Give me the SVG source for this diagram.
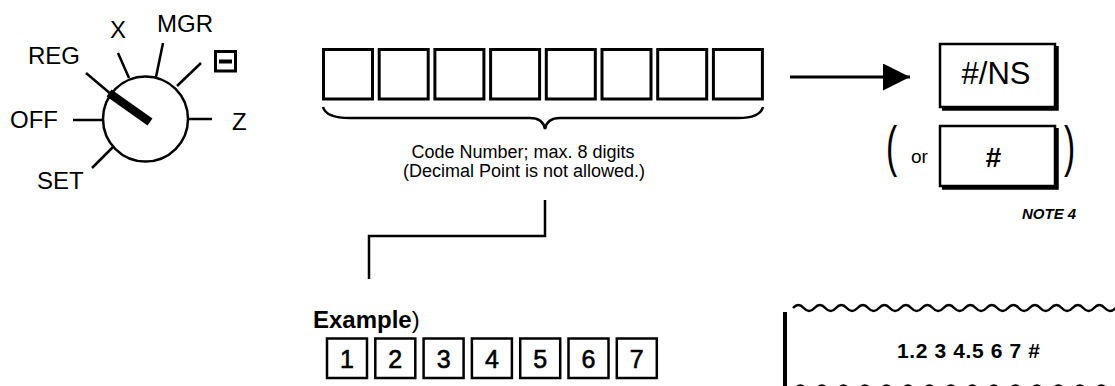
<svg xmlns="http://www.w3.org/2000/svg" width="1115" height="386" viewBox="0 0 1115 386">
<defs>
<style>
text{font-family:"Liberation Sans",Arial,sans-serif;fill:#000}
.lbl{font-size:24px}
.ln{stroke:#000;stroke-width:2.5;fill:none}
.box{stroke:#000;stroke-width:3;fill:#fff}
.dbox{stroke:#000;stroke-width:2.5;fill:#fff}
.dig{font-size:25px;text-anchor:middle;stroke:#000;stroke-width:0.6}
.shadow{stroke:#000;stroke-width:4.5;fill:none}
</style>
<marker id="ah" markerWidth="28" markerHeight="28" refX="27" refY="13.5" orient="auto" markerUnits="userSpaceOnUse" viewBox="0 0 28 28">
<path d="M0,0 L27,13.5 L0,27 Z" fill="#000"/>
</marker>
</defs>
<rect width="1115" height="386" fill="#fff"/>

<g id="dial">
<circle cx="145.5" cy="119" r="42.5" class="ln"/>
<line x1="73" y1="120" x2="103" y2="120" class="ln"/>
<line x1="188" y1="119" x2="212" y2="119" class="ln"/>
<line x1="92" y1="168" x2="113" y2="147" class="ln"/>
<line x1="118" y1="53" x2="129" y2="78" class="ln"/>
<line x1="163" y1="43" x2="156" y2="77" class="ln"/>
<line x1="201" y1="63" x2="177" y2="86" class="ln"/>
<line x1="86" y1="73" x2="112" y2="95" class="ln"/>
<line x1="109" y1="93" x2="150" y2="122" stroke="#000" stroke-width="8.5"/>
<text class="lbl" x="28" y="64">REG</text>
<text class="lbl" x="110" y="38">X</text>
<text class="lbl" x="157" y="32">MGR</text>
<text class="lbl" x="10" y="128">OFF</text>
<text class="lbl" x="232" y="130">Z</text>
<text class="lbl" x="37" y="189">SET</text>
<rect x="215.5" y="51.5" width="20" height="19.5" fill="none" stroke="#000" stroke-width="3"/>
<line x1="219" y1="61.5" x2="232" y2="61.5" stroke="#000" stroke-width="4"/>
</g>

<g id="code-boxes">
<rect class="box" x="323.5" y="49.5" width="49" height="49.5"/>
<rect class="box" x="379.2" y="49.5" width="49" height="49.5"/>
<rect class="box" x="434.9" y="49.5" width="49" height="49.5"/>
<rect class="box" x="490.6" y="49.5" width="49" height="49.5"/>
<rect class="box" x="546.3" y="49.5" width="49" height="49.5"/>
<rect class="box" x="602" y="49.5" width="49" height="49.5"/>
<rect class="box" x="657.7" y="49.5" width="49" height="49.5"/>
<rect class="box" x="713.4" y="49.5" width="49" height="49.5"/>
</g>

<g id="code-label">
<path class="ln" d="M323,107 Q326,118 350,118 H530 Q543,118 545,129 Q547,118 560,118 H738 Q760,118 763,107"/>
<text x="523" y="158" font-size="18" text-anchor="middle">Code Number; max. 8 digits</text>
<text x="524" y="177" font-size="18" text-anchor="middle">(Decimal Point is not allowed.)</text>
</g>

<g id="key-ns">
<rect x="940" y="44" width="115" height="63" fill="#fff" stroke="#000" stroke-width="2.5"/>
<path class="shadow" d="M1056.5,46 V108.5 H942"/>
<text x="996" y="84" font-size="31" text-anchor="middle">#/NS</text>
</g>

<g id="key-hash">
<text transform="translate(886,165) scale(0.8,1.3)" font-size="42">(</text>
<text x="911" y="163" font-size="19">or</text>
<rect x="940" y="126" width="115" height="60" fill="#fff" stroke="#000" stroke-width="2.5"/>
<path class="shadow" d="M1056.5,128 V187.5 H942"/>
<text x="993" y="167" font-size="28" font-weight="bold" font-style="italic" text-anchor="middle">#</text>
<text transform="translate(1064,165) scale(0.8,1.3)" font-size="42">)</text>
<text x="1022" y="219" font-size="15" font-weight="bold" font-style="italic">NOTE 4</text>
</g>

<g id="example">
<text x="313" y="328" font-size="24"><tspan font-weight="bold">Example</tspan>)</text>
</g>

<g id="digit-boxes">
<rect class="dbox" x="327" y="338.5" width="40" height="39.5"/>
<rect class="dbox" x="375.3" y="338.5" width="40" height="39.5"/>
<rect class="dbox" x="423.6" y="338.5" width="40" height="39.5"/>
<rect class="dbox" x="471.9" y="338.5" width="40" height="39.5"/>
<rect class="dbox" x="520.2" y="338.5" width="40" height="39.5"/>
<rect class="dbox" x="568.5" y="338.5" width="40" height="39.5"/>
<rect class="dbox" x="616.8" y="338.5" width="40" height="39.5"/>
<text class="dig" x="347" y="368">1</text>
<text class="dig" x="395.3" y="368">2</text>
<text class="dig" x="443.6" y="368">3</text>
<text class="dig" x="491.9" y="368">4</text>
<text class="dig" x="540.2" y="368">5</text>
<text class="dig" x="588.5" y="368">6</text>
<text class="dig" x="636.8" y="368">7</text>
</g>

<g id="receipt">
<path class="ln" d="M793,308 q5.375,-6 10.75,0 t10.75,0 t10.75,0 t10.75,0 t10.75,0 t10.75,0 t10.75,0 t10.75,0 t10.75,0 t10.75,0 t10.75,0 t10.75,0 t10.75,0 t10.75,0 t10.75,0 t10.75,0 t10.75,0 t10.75,0 t10.75,0 t10.75,0 t10.75,0 t10.75,0 t10.75,0 t10.75,0 t10.75,0 t10.75,0 t10.75,0 t10.75,0 t10.75,0 t10.75,0"/>
<path class="ln" d="M795,389 q5.375,-7 10.75,0 t10.75,0 t10.75,0 t10.75,0 t10.75,0 t10.75,0 t10.75,0 t10.75,0 t10.75,0 t10.75,0 t10.75,0 t10.75,0 t10.75,0 t10.75,0 t10.75,0 t10.75,0 t10.75,0 t10.75,0 t10.75,0 t10.75,0 t10.75,0 t10.75,0 t10.75,0 t10.75,0 t10.75,0 t10.75,0 t10.75,0 t10.75,0 t10.75,0 t10.75,0"/>
<line x1="785" y1="312" x2="785" y2="386" stroke="#000" stroke-width="4"/>
<text x="897" y="358" font-size="21" font-weight="bold" textLength="143" lengthAdjust="spacing">1.2 3 4.5 6 7 #</text>
</g>

<g id="connectors">
<line x1="790" y1="77" x2="910" y2="77" stroke="#000" stroke-width="3" marker-end="url(#ah)"/>
<path class="ln" d="M545,200 V236 H369 V279"/>
</g>
</svg>
